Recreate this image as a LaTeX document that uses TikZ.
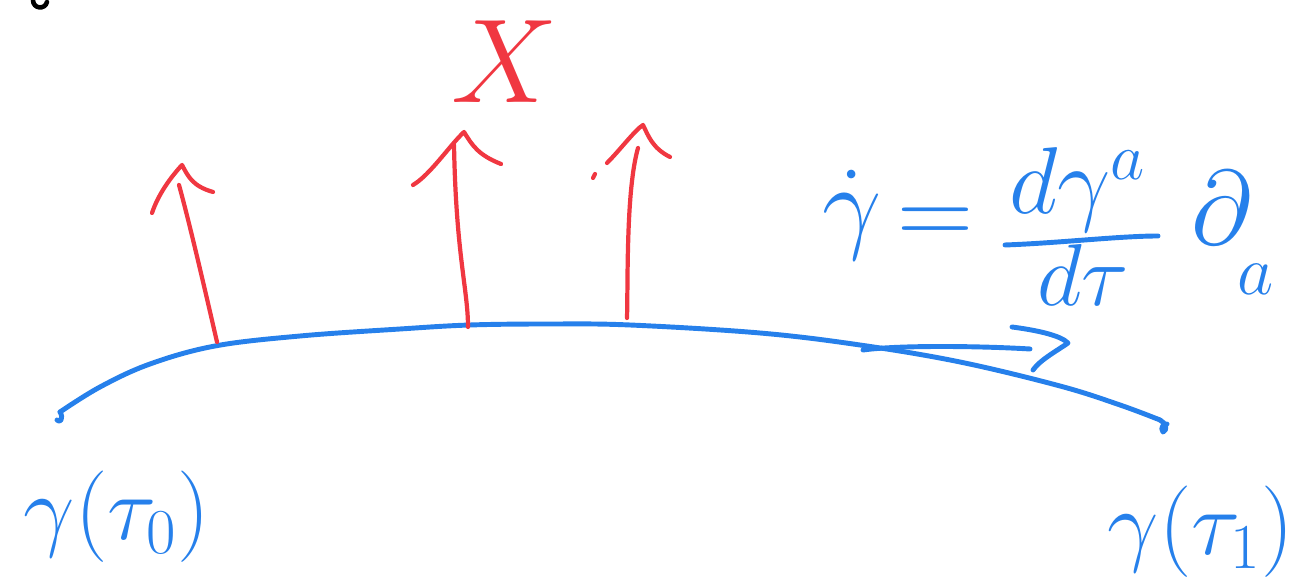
\documentclass[tikz,border=0pt]{standalone}
\usepackage{fix-cm}
\usepackage{amsmath}
\definecolor{pblue}{RGB}{38,128,235}
\definecolor{pred}{RGB}{240,55,65}
\tikzset{
  bluestroke/.style={draw=pblue, line width=1.4pt, line cap=round, line join=round},
  redstroke/.style={draw=pred, line width=1.2pt, line cap=round, line join=round},
  bluetext/.style={text=pblue, inner sep=0pt},
}
\begin{document}
\begin{tikzpicture}[x=0.01cm, y=-0.01cm]
\useasboundingbox (0,0) rectangle (1298,577);
% tiny black mark (cut-off letter) at top left
\draw[line width=1.3pt, line cap=round] (33,0) .. controls (33,9) and (45,10) .. (47,2);

% the curve
\coordinate (cs) at (60,412);
\coordinate (ce) at (1160,420);
\draw[bluestroke] plot[smooth, tension=0.6] coordinates {(60,412) (100,387) (150,364) (215,346) (300,336) (400,329) (470,325) (550,324) (630,325) (760,333) (860,345) (960,362) (1060,386) (1120,405) (1160,420)};
\draw[bluestroke] (cs) .. controls (64,418) and (60,424) .. (57,420);
\draw[bluestroke] (ce) .. controls (1166,423) and (1168,430) .. (1163,432) .. controls (1160,428) and (1163,424) .. (1167,424);

% red vectors
\coordinate (a1b) at (217,342); \coordinate (a1t) at (179,185);
\coordinate (a2b) at (468,327); \coordinate (a2t) at (454,145);
\coordinate (a3b) at (627,318); \coordinate (a3t) at (638,148);
\draw[redstroke] (a1b) .. controls (205,290) and (190,225) .. (a1t);
\draw[redstroke] (152,213) .. controls (158,195) and (170,178) .. (182,165) .. controls (188,176) and (192,186) .. (213,192);
\draw[redstroke] (a2b) .. controls (468,290) and (456,255) .. (a2t);
\draw[redstroke] (413,185) .. controls (430,175) and (450,145) .. (464,132) .. controls (472,145) and (478,155) .. (501,164);
\draw[redstroke] (a3b) .. controls (628,280) and (626,190) .. (a3t);
\draw[redstroke] (593,178) -- (595,174);
\draw[redstroke] (607,163) .. controls (620,150) and (635,130) .. (643,125) .. controls (648,135) and (652,148) .. (670,157);

% X label
\node[text=pred, inner sep=0pt, anchor=base, font=\fontsize{34}{40}\selectfont] (X) at (505,103) {$X$};

% blue tangent arrow
\coordinate (ts) at (863,350);
\coordinate (te) at (1030,349);
\draw[bluestroke] (ts) .. controls (900,345) and (980,346) .. (te);
\draw[bluestroke] (1012,327) .. controls (1035,330) and (1060,335) .. (1068,343) .. controls (1055,352) and (1040,360) .. (1033,370);

% equation
\node[bluetext, anchor=base, font=\fontsize{30}{36}\selectfont] (gdot) at (852,240) {$\dot\gamma$};
\node[bluetext, anchor=base, font=\fontsize{30}{36}\selectfont] (eq) at (935,246) {$=$};
\node[bluetext, anchor=base, font=\fontsize{27}{32}\selectfont] (num) at (1078,214) {$d\gamma^{a}$};
\coordinate (barl) at (1005,245);
\coordinate (barr) at (1158,236);
\draw[bluestroke] (barl) .. controls (1060,243) and (1120,236) .. (barr);
\node[bluetext, anchor=base, font=\fontsize{25}{30}\selectfont] (den) at (1083,306) {$d\tau$};
\node[bluetext, anchor=base, font=\fontsize{30}{36}\selectfont] (pd) at (1222,245) {$\partial$};
\node[bluetext, anchor=base, font=\fontsize{20}{24}\selectfont] (pda) at (1256,295) {$a$};

% end point labels
\node[bluetext, anchor=base, font=\fontsize{26}{30}\selectfont] (g0) at (117,540) {$\gamma(\tau_0)$};
\node[bluetext, anchor=base west, font=\fontsize{26}{30}\selectfont] (g1) at (1107,555) {$\gamma(\tau_1)$};
\end{tikzpicture}
\end{document}
